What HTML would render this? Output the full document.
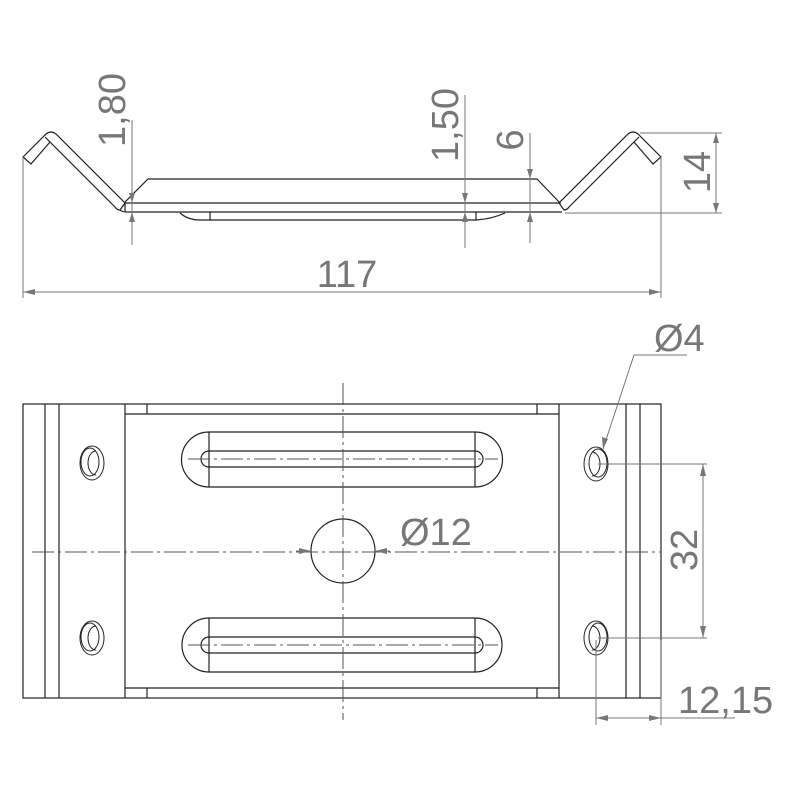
<!DOCTYPE html>
<html><head><meta charset="utf-8"><style>body{margin:0;background:#fff}svg{display:block}</style></head>
<body>
<svg width="800" height="800" viewBox="0 0 800 800" xmlns="http://www.w3.org/2000/svg">
<defs>
<g id="hole"><ellipse cx="0" cy="0" rx="12" ry="17" fill="none" stroke="#222" stroke-width="1"/><ellipse cx="-2" cy="-1" rx="9" ry="14" fill="none" stroke="#222" stroke-width="1"/><path d="M4,-12 A8,12 0 0 0 4,12" fill="none" stroke="#222" stroke-width="1"/></g>
<g id="leg" fill="none" stroke="#222" stroke-width="1.2">
<path d="M23,157 L46,134 Q51,130 56,134 L125,203 L120,210 Q117,210 115,207 L50,142 L31,164 Z"/>
<path d="M45,137 L50,142"/>
</g>
</defs>
<use href="#leg"/>
<use href="#leg" transform="translate(684,0) scale(-1,1)"/>
<g fill="none" stroke="#222" stroke-width="1.2">
<path d="M125,202 L148,179 L537,179 L560,203 L125,203"/>
<path d="M120,210 Q122,212 127,212 L562,212"/>
<path d="M125,203 L125,212"/>
<path d="M180,213 Q188,220 200,220 L476,220 Q492,219 505,213"/>
<path d="M210,212 L210,220 M476,212 L476,220"/>
<rect x="23" y="404" width="638" height="294"/>
<path d="M45,404V698M59,404V698M125,404V698M559,404V698M626,404V698M640,404V698"/>
<path d="M125,414H559M125,688H559M147,404V414M537,404V414M147,688V698M537,688V698"/>
<path d="M209,432H475A27.5,27.5 0 0 1 475,487H209A27.5,27.5 0 0 1 209,432Z M209,432V487M475,432V487"/>
<path d="M209,451H475A8,8 0 0 1 475,467H209A8,8 0 0 1 209,451Z"/>
<path d="M209,618H475A27,27 0 0 1 475,672H209A27,27 0 0 1 209,618Z M209,618V672M475,618V672"/>
<path d="M209,637H475A8,8 0 0 1 475,653H209A8,8 0 0 1 209,637Z"/>
<circle cx="343" cy="551" r="32"/>
</g>
<use href="#hole" x="92" y="463"/>
<use href="#hole" x="92" y="638"/>
<use href="#hole" x="596" y="464" transform="translate(1192,0) scale(-1,1)"/>
<use href="#hole" x="596" y="638" transform="translate(1192,0) scale(-1,1)"/>
<g fill="none" stroke="#555" stroke-width="1" stroke-dasharray="22,4,3,4">
<path d="M32,552H660M343,383V720M188,459H498M188,645H498"/>
</g>
<g fill="none" stroke="#777" stroke-width="1">
<path d="M132,120V245M465,95V248M530,133V243"/>
<path d="M640,133H722M565,213H722M716,133V213"/>
<path d="M23,157V298M661,157V298M23,292H661"/>
<path d="M603,449L634,355H687"/>
<path d="M598,464H707M598,638H707M703,464V638"/>
<path d="M596,640V725M661,640V725M596,718H735"/>
<path d="M296,551H311M375,551H390"/>
</g>
<g fill="#777">
<path d="M132,203l-3,-10h6z M132,212l-3,10h6z"/>
<path d="M465,203l-3,-10h6z M465,212l-3,10h6z"/>
<path d="M530,179l-3,-10h6z M530,212l-3,10h6z"/>
<path d="M716,133l-3,10h6z M716,213l-3,-10h6z"/>
<path d="M23,292l12,-3v6z M661,292l-12,-3v6z"/>
<path d="M603,449l-1,-12l6,2z"/>
<path d="M703,464l-3,12h6z M703,638l-3,-12h6z"/>
<path d="M596,718l12,-3v6z M661,718l-12,-3v6z"/>
<path d="M311,551l-12,-3v6z M375,551l12,-3v6z"/>
</g>
<g fill="#777" font-family="Liberation Sans, sans-serif" font-size="38">
<text x="347" y="287" text-anchor="middle">117</text>
<text transform="translate(125,110) rotate(-90)" text-anchor="middle">1,80</text>
<text transform="translate(458,125) rotate(-90)" text-anchor="middle">1,50</text>
<text transform="translate(523,140) rotate(-90)" text-anchor="middle">6</text>
<text transform="translate(710,172) rotate(-90)" text-anchor="middle">14</text>
<text transform="translate(697,550) rotate(-90)" text-anchor="middle">32</text>
<text x="654" y="351">Ø4</text>
<text x="400" y="545">Ø12</text>
<text x="678" y="713">12,15</text>
</g>
</svg>
</body></html>
